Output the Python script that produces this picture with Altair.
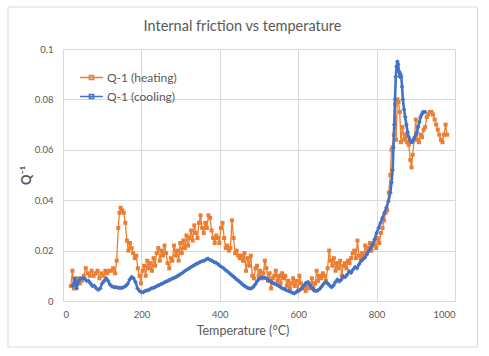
import altair as alt
import pandas as pd

ORANGE = "#ED7D31"
BLUE = "#4472C4"
GREY = "#595959"
GRID = "#D9D9D9"
FONT = "Lato"

TITLE = "Internal friction vs temperature"
HEAT_NAME = "Q-1 (heating)"
COOL_NAME = "Q-1 (cooling)"

heat_T = [
    20, 24, 28, 33, 38, 43, 48, 53, 58, 63,
    68, 73, 78, 83, 88, 93, 98, 103, 108, 113,
    118, 123, 128, 133, 137, 141, 144, 147, 151, 155,
    159, 163, 167, 171, 175, 179, 183, 187, 191, 195,
    199, 203, 207, 211, 215, 219, 223, 227, 231, 235,
    239, 243, 247, 251, 255, 259, 263, 267, 271, 275,
    279, 283, 287, 291, 295, 299, 303, 307, 311, 315,
    319, 323, 327, 331, 335, 339, 343, 347, 351, 355,
    359, 363, 367, 371, 375, 379, 383, 387, 391, 395,
    399, 403, 407, 411, 415, 419, 423, 427, 431, 435,
    439, 443, 447, 451, 455, 459, 463, 467, 471, 475,
    479, 483, 487, 491, 495, 499, 503, 507, 511, 515,
    519, 523, 527, 531, 535, 539, 543, 547, 551, 555,
    559, 563, 567, 571, 575, 579, 583, 587, 591, 595,
    599, 603, 607, 611, 615, 619, 623, 627, 631, 635,
    639, 643, 647, 651, 655, 659, 663, 667, 671, 675,
    679, 683, 687, 691, 695, 699, 703, 707, 711, 715,
    719, 723, 727, 731, 735, 739, 743, 747, 751, 755,
    759, 763, 767, 771, 775, 779, 783, 787, 791, 795,
    799, 803, 807, 811, 815, 819, 823, 827, 831, 835,
    838, 841, 844, 847, 850, 853, 856, 859, 862, 866,
    870, 874, 878, 882, 886, 889, 892, 896, 900, 904,
    908, 912, 916, 920, 924, 928, 932, 936, 940, 944,
    948, 952, 956, 960, 964, 968, 972, 976, 980,
]
heat_Q = [
    0.006, 0.012, 0.005, 0.008, 0.009, 0.007, 0.008, 0.010, 0.013, 0.011,
    0.010, 0.012, 0.010, 0.011, 0.012, 0.009, 0.011, 0.010, 0.012, 0.011,
    0.012, 0.012, 0.013, 0.011, 0.016, 0.029, 0.035, 0.037, 0.036, 0.035,
    0.031, 0.024, 0.020, 0.023, 0.021, 0.019, 0.017, 0.018, 0.013, 0.010,
    0.007, 0.012, 0.014, 0.010, 0.016, 0.013, 0.015, 0.012, 0.017, 0.014,
    0.019, 0.021, 0.016, 0.020, 0.018, 0.022, 0.019, 0.015, 0.013, 0.017,
    0.016, 0.022, 0.018, 0.020, 0.016, 0.023, 0.019, 0.024, 0.021, 0.026,
    0.022, 0.025, 0.028, 0.024, 0.030, 0.027, 0.025, 0.031, 0.034, 0.029,
    0.027, 0.031, 0.029, 0.034, 0.033, 0.028, 0.025, 0.023, 0.026, 0.025,
    0.023, 0.029, 0.031, 0.025, 0.021, 0.022, 0.020, 0.021, 0.032, 0.025,
    0.019, 0.020, 0.018, 0.017, 0.018, 0.016, 0.019, 0.012, 0.017, 0.014,
    0.018, 0.010, 0.009, 0.013, 0.014, 0.010, 0.012, 0.009, 0.011, 0.016,
    0.013, 0.008, 0.011, 0.005, 0.009, 0.010, 0.012, 0.008, 0.010, 0.007,
    0.011, 0.009, 0.010, 0.006, 0.008, 0.005, 0.007, 0.009, 0.006, 0.008,
    0.004, 0.010, 0.007, 0.005, 0.006, 0.004, 0.007, 0.005, 0.006, 0.009,
    0.005, 0.007, 0.012, 0.008, 0.010, 0.009, 0.011, 0.010, 0.008, 0.013,
    0.020, 0.016, 0.014, 0.017, 0.012, 0.015, 0.013, 0.016, 0.010, 0.014,
    0.015, 0.013, 0.016, 0.015, 0.017, 0.019, 0.020, 0.017, 0.024, 0.018,
    0.017, 0.019, 0.018, 0.022, 0.019, 0.021, 0.023, 0.020, 0.022, 0.024,
    0.021, 0.025, 0.023, 0.027, 0.029, 0.032, 0.035, 0.036, 0.043, 0.050,
    0.060, 0.061, 0.066, 0.078, 0.064, 0.080, 0.079, 0.075, 0.063, 0.069,
    0.064, 0.066, 0.063, 0.062, 0.056, 0.053, 0.058, 0.064, 0.072, 0.064,
    0.063, 0.066, 0.065, 0.068, 0.069, 0.073, 0.074, 0.075, 0.075, 0.074,
    0.072, 0.070, 0.068, 0.066, 0.064, 0.063, 0.066, 0.070, 0.066,
]

cool_T = [
    25, 30, 35, 40, 45, 50, 55, 60, 65, 70,
    75, 80, 85, 90, 95, 100, 105, 110, 115, 120,
    125, 130, 135, 140, 145, 150, 155, 160, 165, 170,
    175, 180, 185, 190, 195, 200, 205, 210, 215, 220,
    225, 230, 235, 240, 245, 250, 255, 260, 265, 270,
    275, 280, 285, 290, 295, 300, 305, 310, 315, 320,
    325, 330, 335, 340, 345, 350, 355, 360, 365, 370,
    375, 380, 385, 390, 395, 400, 405, 410, 415, 420,
    425, 430, 435, 440, 445, 450, 455, 460, 465, 470,
    475, 480, 485, 490, 495, 500, 505, 510, 515, 520,
    525, 530, 535, 540, 545, 550, 555, 560, 565, 570,
    575, 580, 585, 590, 595, 600, 605, 610, 615, 620,
    625, 630, 635, 640, 645, 650, 655, 660, 665, 670,
    675, 680, 685, 690, 695, 700, 705, 710, 715, 720,
    725, 730, 735, 740, 745, 750, 755, 760, 765, 770,
    775, 780, 785, 790, 795, 800, 805, 810, 815, 820,
    825, 830, 835, 838, 841, 843, 845, 847, 849, 851,
    853, 855, 857, 859, 861, 863, 865, 867, 870, 873,
    876, 879, 882, 885, 888, 891, 894, 897, 900, 903,
    906, 909, 912, 915, 918, 921, 924,
]
cool_Q = [
    0.006, 0.009, 0.005, 0.008, 0.009, 0.009, 0.009, 0.008, 0.008, 0.007,
    0.006, 0.006, 0.005, 0.0045, 0.005, 0.007, 0.008, 0.009, 0.008, 0.0065,
    0.0058, 0.0055, 0.0055, 0.0053, 0.0052, 0.0052, 0.0055, 0.006, 0.0068, 0.0085,
    0.0095, 0.009, 0.0075, 0.005, 0.004, 0.0035, 0.0035, 0.004, 0.0042, 0.0045,
    0.005, 0.0052, 0.0055, 0.006, 0.0063, 0.0067, 0.007, 0.0075, 0.0078, 0.0082,
    0.0086, 0.009, 0.0093, 0.0097, 0.0102, 0.0107, 0.0112, 0.0118, 0.0123, 0.0128,
    0.0133, 0.0138, 0.0142, 0.0147, 0.015, 0.0155, 0.0158, 0.016, 0.0165, 0.0168,
    0.0163, 0.016, 0.0155, 0.0152, 0.0147, 0.014, 0.0135, 0.013, 0.0122, 0.0117,
    0.011, 0.0103, 0.0097, 0.009, 0.0083, 0.0077, 0.007, 0.0063, 0.0058, 0.0053,
    0.005, 0.005, 0.0055, 0.0065, 0.0078, 0.0088, 0.0092, 0.0093, 0.0092, 0.0088,
    0.0082, 0.0077, 0.0072, 0.0068, 0.0065, 0.006, 0.0055, 0.005, 0.0047, 0.0043,
    0.004, 0.0037, 0.0033, 0.003, 0.0035, 0.004, 0.0045, 0.0052, 0.0062, 0.0072,
    0.0075, 0.0065, 0.0052, 0.0042, 0.004, 0.0042, 0.0048, 0.0058, 0.0068, 0.0075,
    0.007, 0.0062, 0.0055, 0.0062, 0.0075, 0.0085, 0.0078, 0.0085, 0.0098, 0.0095,
    0.0105, 0.0118, 0.0112, 0.0125, 0.0135, 0.013, 0.0145, 0.0158, 0.0165, 0.0172,
    0.0185, 0.0198, 0.021, 0.0225, 0.0245, 0.027, 0.029, 0.031, 0.033, 0.035,
    0.037, 0.0395, 0.043, 0.047, 0.052, 0.061, 0.070, 0.080, 0.089, 0.093,
    0.095, 0.094, 0.091, 0.089, 0.090, 0.089, 0.085, 0.080, 0.076, 0.073,
    0.070, 0.067, 0.065, 0.064, 0.063, 0.063, 0.064, 0.065, 0.066, 0.067,
    0.069, 0.071, 0.073, 0.074, 0.075, 0.075, 0.075,
]

x_ticks = [0, 200, 400, 600, 800, 1000]
y_ticks = [0, 0.02, 0.04, 0.06, 0.08, 0.1]

heat = pd.DataFrame([{"T": t, "Q": q, "series": HEAT_NAME, "i": k}
                     for k, (t, q) in enumerate(zip(heat_T, heat_Q))])
cool = pd.DataFrame([{"T": t, "Q": q, "series": COOL_NAME, "i": k}
                     for k, (t, q) in enumerate(zip(cool_T, cool_Q))])

x_enc = alt.X(
    "T:Q",
    scale=alt.Scale(domain=[0, 1000], nice=False, zero=False),
    axis=alt.Axis(
        values=x_ticks, format="d", title="Temperature (°C)", grid=True, gridColor=GRID,
        domain=True, domainColor=GRID, ticks=False, labelPadding=8,
        labelFont=FONT, labelFontSize=9.5, labelColor=GREY,
        titleFont=FONT, titleFontSize=12.5, titleColor=GREY, titleFontWeight="normal",
        titleX=179.5, titleY=29, titleAlign="center", titleBaseline="middle",
        titleAnchor="start",
    ),
)
y_enc = alt.Y(
    "Q:Q",
    scale=alt.Scale(domain=[0, 0.1], nice=False),
    axis=alt.Axis(
        values=y_ticks, format="~g", title="Q⁻¹", grid=True, gridColor=GRID,
        domain=False, ticks=False, labelPadding=10,
        labelFont=FONT, labelFontSize=9.5, labelColor=GREY,
        titleFont=FONT, titleFontSize=13, titleColor=GREY, titleFontWeight="bold",
        titleX=-37, titleY=126, titleAlign="center", titleBaseline="middle",
        titleAngle=270,
    ),
)

color_enc = alt.Color(
    "series:N",
    scale=alt.Scale(domain=[HEAT_NAME, COOL_NAME], range=[ORANGE, BLUE]),
    legend=alt.Legend(
        title=None, orient="none", legendX=16, legendY=16,
        symbolType="M-1,0H1M-0.18,-0.18H0.18V0.18H-0.18Z",
        symbolSize=530, symbolStrokeWidth=1.6, rowPadding=0, padding=0,
        labelFont=FONT, labelFontSize=12, labelColor=GREY, labelOffset=3,
    ),
)

heat_line = alt.Chart(heat).mark_line(strokeWidth=1.3).encode(
    x=x_enc, y=y_enc, color=color_enc, order="i:Q")
heat_pts = alt.Chart(heat).mark_point(
    shape="square", size=16, filled=True, opacity=1, color=ORANGE
).encode(x="T:Q", y="Q:Q")
cool_line = alt.Chart(cool).mark_line(strokeWidth=2.6).encode(
    x="T:Q", y="Q:Q", color=alt.Color("series:N"), order="i:Q")
cool_pts = alt.Chart(cool).mark_point(
    shape="diamond", size=22, filled=True, opacity=1, color=BLUE
).encode(x="T:Q", y="Q:Q")

one_row = pd.DataFrame({"a": [0]})
frame = alt.Chart(one_row).mark_rect(
    fill=None, stroke=GRID, strokeWidth=1
).encode(
    x=alt.value(-55), x2=alt.value(414.5), y=alt.value(-42), y2=alt.value(298),
)
title = alt.Chart(one_row).mark_text(
    text=TITLE, font=FONT, fontSize=14.5, color=GREY, align="center", baseline="middle"
).encode(x=alt.value(179.5), y=alt.value(-22))

chart = alt.layer(frame, title, heat_line, heat_pts, cool_line, cool_pts).properties(
    width=392, height=252,
    autosize=alt.AutoSizeParams(type="none"),
    padding={"left": 63, "top": 49, "right": 34, "bottom": 55},
).configure_view(stroke=None).configure(background="white")

chart.save("out.html", embed_options={"renderer": "svg", "actions": False})
